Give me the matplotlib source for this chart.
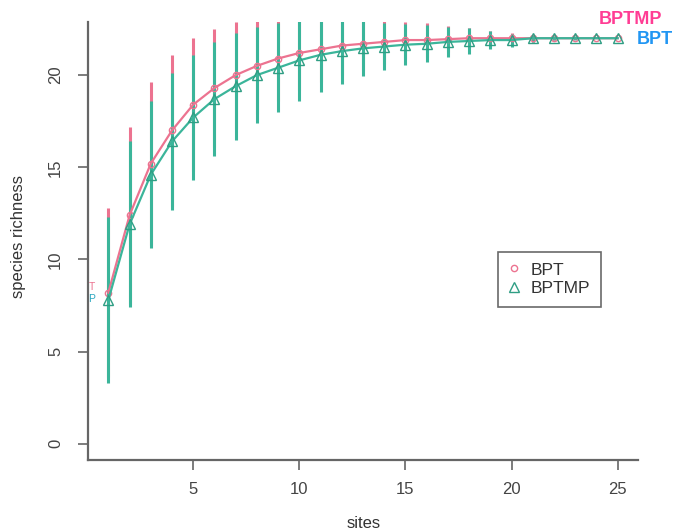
import matplotlib
matplotlib.use("Agg")
import matplotlib.pyplot as plt
import numpy as np

# species accumulation curves
sites = np.arange(1, 26)
bpt_rich = [8.2, 12.4, 15.2, 17.0, 18.4, 19.3, 20.0, 20.5, 20.9, 21.2, 21.4, 21.6, 21.7,
            21.8, 21.9, 21.9, 21.95, 22.0, 22.0, 22.0, 22.0, 22.0, 22.0, 22.0, 22.0]
bpt_ci = [4.6, 4.8, 4.4, 4.1, 3.6, 3.2, 2.9, 2.6, 2.3, 2.0, 1.8, 1.6, 1.4,
          1.2, 1.0, 0.9, 0.7, 0.55, 0.4, 0.3, 0.2, 0.1, 0.05, 0.0, 0.0]
bptmp_rich = [7.8, 11.9, 14.6, 16.4, 17.7, 18.7, 19.4, 20.0, 20.4, 20.8, 21.1, 21.3, 21.45,
              21.55, 21.65, 21.7, 21.8, 21.85, 21.9, 21.9, 22.0, 22.0, 22.0, 22.0, 22.0]
bptmp_ci = [4.5, 4.5, 4.0, 3.7, 3.4, 3.1, 2.9, 2.6, 2.4, 2.2, 2.0, 1.8, 1.5,
            1.3, 1.1, 1.0, 0.8, 0.7, 0.5, 0.35, 0.2, 0.12, 0.1, 0.0, 0.0]
series_names = ["BPT", "BPTMP"]

pink = "#EC7390"
teal = "#3BB59A"
axis_grey = "#666666"

plt.rcParams["font.family"] = ["Liberation Sans", "DejaVu Sans"]

fig = plt.figure(figsize=(6.76, 5.30), dpi=100)
ax = fig.add_axes([88 / 676, 1 - 460 / 530, (638 - 88) / 676, (460 - 22) / 530])

bpt = np.array(bpt_rich)
bptmp = np.array(bptmp_rich)

# error bars (pink first, teal drawn over it)
ax.vlines(sites, bpt - np.array(bpt_ci), bpt + np.array(bpt_ci), color=pink, lw=2.2)
ax.vlines(sites, bptmp - np.array(bptmp_ci), bptmp + np.array(bptmp_ci), color=teal, lw=2.2)

ax.plot(sites, bpt, color=pink, lw=1.6, marker="o", ms=4.5, mfc="none", mec=pink, mew=1.0,
        label=series_names[0])
ax.plot(sites, bptmp, color=teal, lw=1.6, marker="^", ms=6.5, mfc="none", mec="#2F9E84", mew=1.0,
        label=series_names[1])

ax.set_xlim(0.04, 25.96)
ax.set_ylim(-0.88, 22.88)
ax.set_xticks([5, 10, 15, 20, 25])
ax.set_yticks([0, 5, 10, 15, 20])

for side in ["top", "right"]:
    ax.spines[side].set_visible(False)
for side in ["left", "bottom"]:
    ax.spines[side].set_color(axis_grey)
    ax.spines[side].set_linewidth(1.6)

ax.tick_params(axis="both", direction="out", length=7, width=1.2, color=axis_grey,
               labelcolor="#444444", labelsize=12)
ax.tick_params(axis="x", pad=9)
ax.tick_params(axis="y", pad=11)
for lab in ax.get_yticklabels():
    lab.set_rotation(90)
    lab.set_va("center")

fig.text(19 / 676, 1 - 237 / 530, "species richness", rotation=90, ha="center", va="center",
         fontsize=12, color="#333333")
fig.text(364 / 676, 1 - 523 / 530, "sites", ha="center", va="center", fontsize=12, color="#333333")

leg = ax.legend(loc="upper left", bbox_to_anchor=((498 - 88) / 550, 1 - (252 - 22) / 438),
                frameon=True, fancybox=False, fontsize=12.5, handlelength=0.6,
                handletextpad=0.7, borderpad=0.6, labelspacing=0.2, borderaxespad=0)
leg.get_frame().set_edgecolor("#444444")
leg.get_frame().set_linewidth(1.2)
for h in leg.get_lines():
    h.set_linestyle("none")
for t in leg.get_texts():
    t.set_color("#333333")

# labels at the curve ends
fig.text(631 / 676, 1 - 20 / 530, "BPTMP", ha="center", va="center", fontsize=13,
         fontweight="bold", color="#FF3D94")
fig.text(655 / 676, 1 - 40 / 530, "BPT", ha="center", va="center", fontsize=13,
         fontweight="bold", color="#2196F3")
# the clipped start labels beside the y axis
fig.text(92 / 676, 1 - 287 / 530, "T", ha="center", va="center", fontsize=7.5, color=pink)
fig.text(92 / 676, 1 - 299 / 530, "P", ha="center", va="center", fontsize=7.5, color="#2AA7C0")

fig.savefig("out.png", dpi=100)
